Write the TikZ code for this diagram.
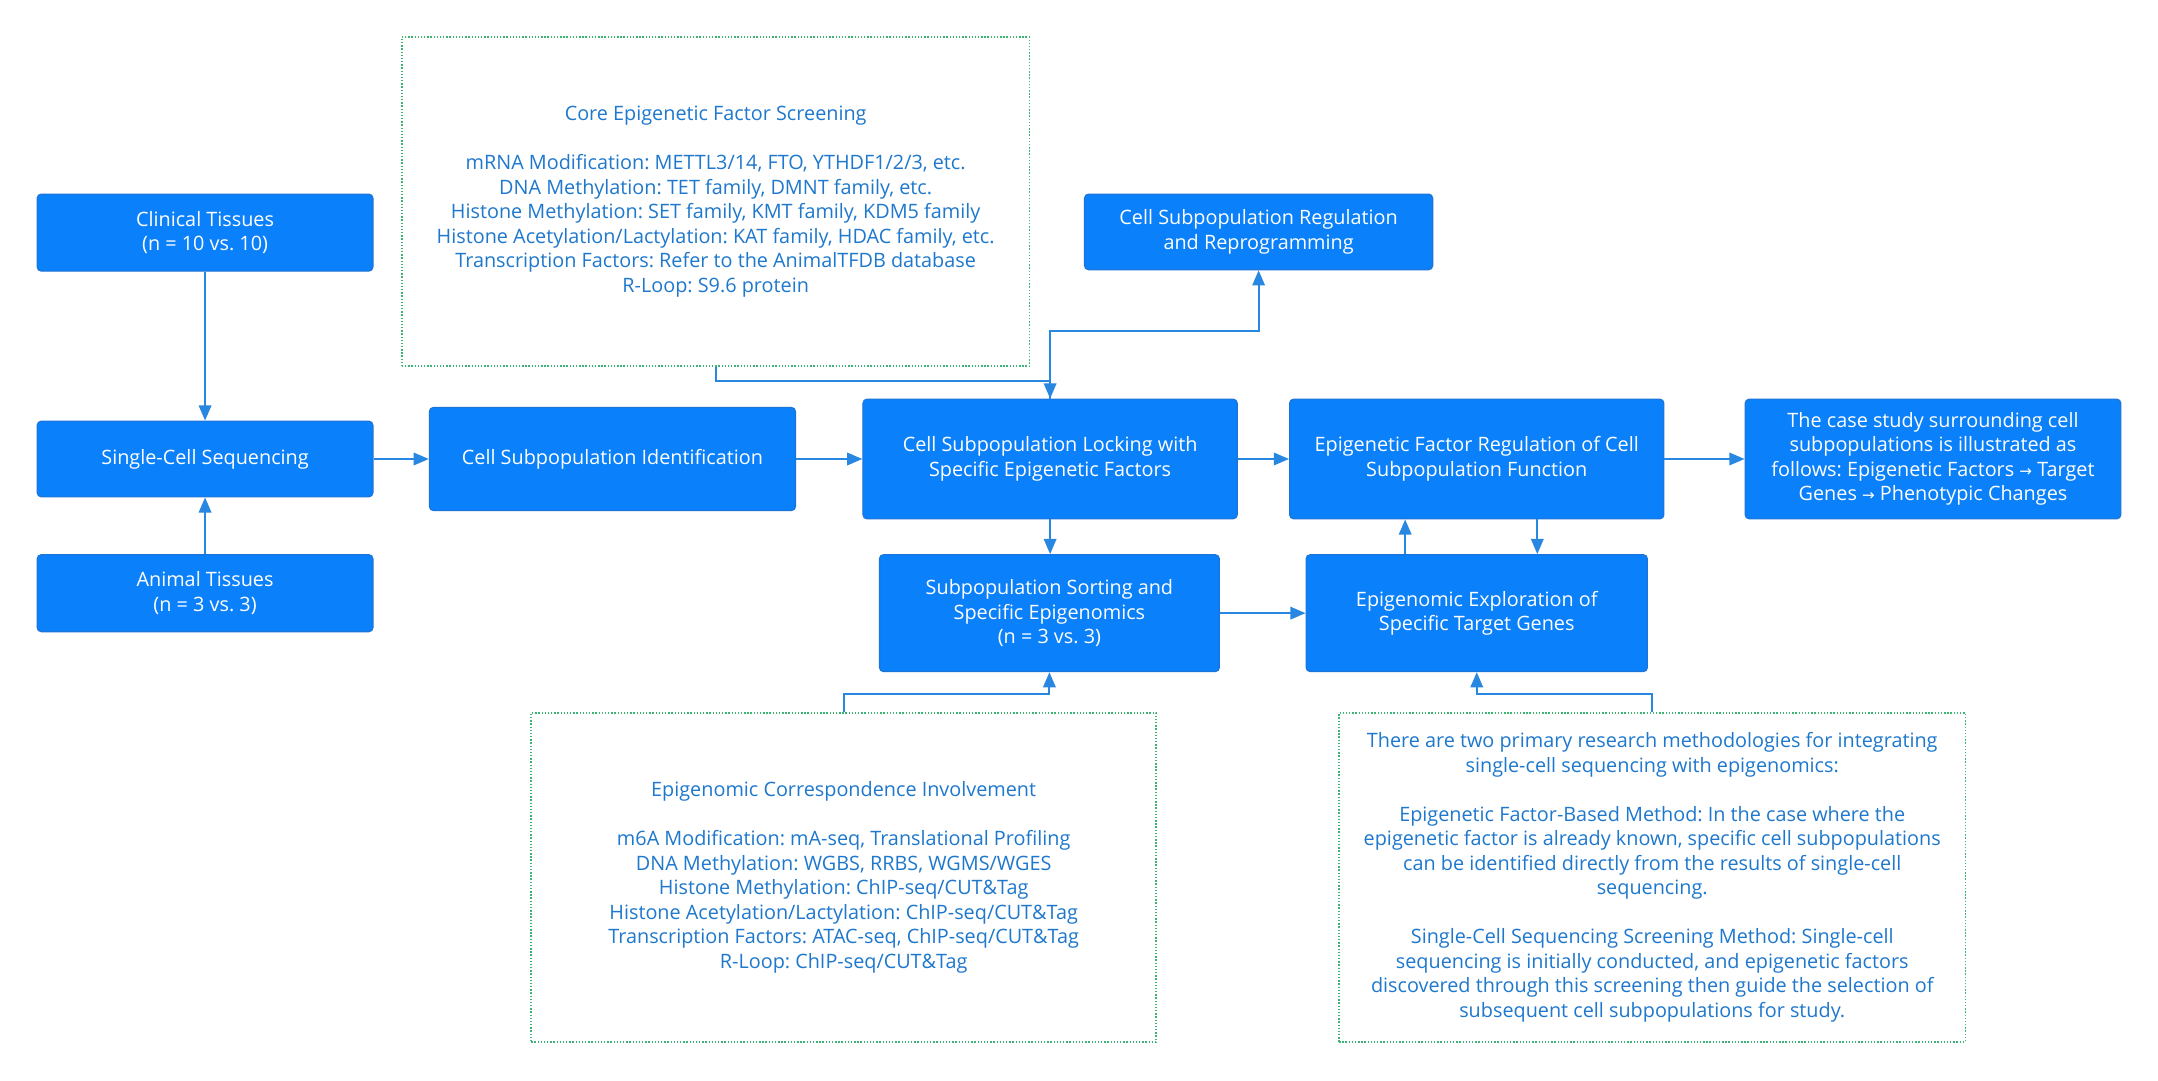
\documentclass[tikz,border=0pt]{standalone}
\usepackage{fontspec}
\setmainfont{Open Sans}
\newfontfamily\arrowfont{DejaVu Sans}
\usetikzlibrary{arrows.meta}
\definecolor{boxblue}{RGB}{10,128,250}
\definecolor{boxedge}{RGB}{30,115,215}
\definecolor{linkblue}{RGB}{40,135,225}
\definecolor{dotgreen}{RGB}{60,180,115}
\definecolor{noteblue}{RGB}{30,120,205}
\frenchspacing
\begin{document}
\begin{tikzpicture}[x=1pt,y=-1pt,
  bluebox/.style={draw=boxedge, line width=0.8pt, fill=boxblue, rounded corners=3pt, text=white, align=center, inner sep=0pt, font=\fontsize{14.4}{17.8}\selectfont},
  notebox/.style={draw=dotgreen, line width=1.2pt, dash pattern=on 1pt off 1.3pt, align=center, text=noteblue, inner sep=0pt, font=\fontsize{14.4}{17.8}\selectfont},
  link/.style={draw=linkblue, line width=1.5pt, -{Triangle[length=11pt,width=9pt]}},
  arr/.style={}]
\fill[white] (0,0) rectangle (1568,785);
\useasboundingbox (0,0) rectangle (1568,785);

\node[bluebox, minimum width=244pt, minimum height=56pt] (clin) at (149,169) {Clinical Tissues\\(n = 10 vs. 10)};
\node[bluebox, minimum width=244pt, minimum height=55pt] (scs) at (149,333.5) {Single-Cell Sequencing};
\node[bluebox, minimum width=244pt, minimum height=56pt] (anim) at (149,431) {Animal Tissues\\(n = 3 vs. 3)};
\node[bluebox, minimum width=266pt, minimum height=75pt] (csi) at (445,333.5) {Cell Subpopulation Identification};
\node[bluebox, minimum width=272pt, minimum height=87pt] (lock) at (763,333.5) {Cell Subpopulation Locking with\\Specific Epigenetic Factors};
\node[bluebox, minimum width=272pt, minimum height=87pt] (efr) at (1073,333.5) {Epigenetic Factor Regulation of Cell\\Subpopulation Function};
\node[bluebox, minimum width=273pt, minimum height=87pt] (case) at (1404.5,333.5) {The case study surrounding cell\\subpopulations is illustrated as\\follows: Epigenetic Factors {\arrowfont\fontsize{11}{17.8}\selectfont →} Target\\Genes {\arrowfont\fontsize{11}{17.8}\selectfont →} Phenotypic Changes};
\node[bluebox, minimum width=253pt, minimum height=55pt] (rep) at (914.5,168.5) {Cell Subpopulation Regulation\\and Reprogramming};
\node[bluebox, minimum width=247pt, minimum height=85pt] (sort) at (762.5,445.5) {Subpopulation Sorting and\\Specific Epigenomics\\(n = 3 vs. 3)};
\node[bluebox, minimum width=248pt, minimum height=85pt] (expl) at (1073,445.5) {Epigenomic Exploration of\\Specific Target Genes};

\node[notebox, minimum width=456pt, minimum height=239pt] (coreA) at (520,146.5) {Core Epigenetic Factor Screening\\[17.8pt]
mRNA Modification: METTL3/14, FTO, YTHDF1/2/3, etc.\\
DNA Methylation: TET family, DMNT family, etc.\\
Histone Methylation: SET family, KMT family, KDM5 family\\
Histone Acetylation/Lactylation: KAT family, HDAC family, etc.\\
Transcription Factors: Refer to the AnimalTFDB database\\
R-Loop: S9.6 protein};
\node[notebox, minimum width=454pt, minimum height=239pt] (corrB) at (613,637.5) {Epigenomic Correspondence Involvement\\[17.8pt]
m6A Modification: mA-seq, Translational Profiling\\
DNA Methylation: WGBS, RRBS, WGMS/WGES\\
Histone Methylation: ChIP-seq/CUT\&Tag\\
Histone Acetylation/Lactylation: ChIP-seq/CUT\&Tag\\
Transcription Factors: ATAC-seq, ChIP-seq/CUT\&Tag\\
R-Loop: ChIP-seq/CUT\&Tag};
\node[notebox, minimum width=455pt, minimum height=239pt] (methC) at (1200.5,637.5) {There are two primary research methodologies for integrating\\
single-cell sequencing with epigenomics:\\[17.8pt]
Epigenetic Factor-Based Method: In the case where the\\
epigenetic factor is already known, specific cell subpopulations\\
can be identified directly from the results of single-cell\\
sequencing.\\[17.8pt]
Single-Cell Sequencing Screening Method: Single-cell\\
sequencing is initially conducted, and epigenetic factors\\
discovered through this screening then guide the selection of\\
subsequent cell subpopulations for study.};

\coordinate (xup) at (1021,0);
\coordinate (xdn) at (1117,0);

\draw[link] (clin.south) -- (scs.north);
\draw[link] (anim.north) -- (scs.south);
\draw[link] (scs.east) -- (csi.west);
\draw[link] (csi.east) -- (lock.west);
\draw[link] (lock.east) -- (efr.west);
\draw[link] (efr.east) -- (case.west);
\draw[link] (lock.south) -- (lock.south |- sort.north);
\draw[link] (sort.east) -- (sort.east -| expl.west);
\draw[link] (xup |- expl.north) -- (xup |- efr.south);
\draw[link] (xdn |- efr.south) -- (xdn |- expl.north);
\draw[link] (coreA.south) -- ++(0,10) -| (lock.north);
\draw[link] (lock.north) -- ++(0,-49) -| (rep.south);
\draw[link] (corrB.north) -- ++(0,-13) -| (sort.south);
\draw[link] (methC.north) -- ++(0,-13) -| (expl.south);
\end{tikzpicture}
\end{document}
